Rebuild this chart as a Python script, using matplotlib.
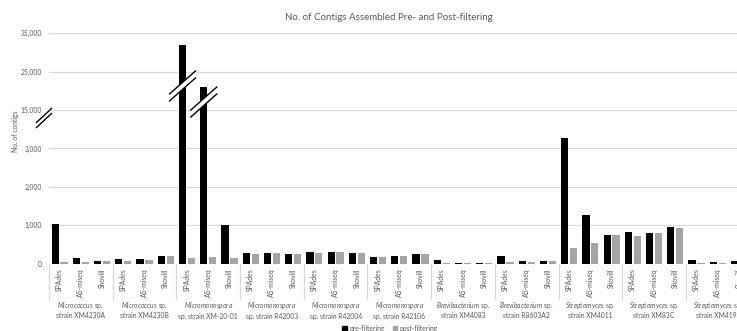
import numpy as np
import matplotlib
matplotlib.use("Agg")
import matplotlib.pyplot as plt
import matplotlib.transforms as mtransforms
from matplotlib.patches import Polygon, Patch
from matplotlib.lines import Line2D

# ---- data -------------------------------------------------------------
assemblers = ["SPAdes", "A5-miseq", "Shovill"]

strain_line1 = [
    r"$\mathit{Micrococcus}\ \mathrm{sp.}$", r"$\mathit{Micrococcus}\ \mathrm{sp.}$",
    r"$\mathit{Micromonospora}$", r"$\mathit{Micromonospora}$",
    r"$\mathit{Micromonospora}$", r"$\mathit{Micromonospora}$",
    r"$\mathit{Brevibacterium}\ \mathrm{sp.}$", r"$\mathit{Brevibacterium}\ \mathrm{sp.}$",
    r"$\mathit{Streptomyces}\ \mathrm{sp.}$", r"$\mathit{Streptomyces}\ \mathrm{sp.}$",
    r"$\mathit{Streptomyces}\ \mathrm{sp.}$",
]
strain_line2 = [
    "strain XM4230A", "strain XM4230B", "sp. strain XM-20-01",
    "sp. strain R42003", "sp. strain R42004", "sp. strain R42106",
    "strain XM4083", "strain R8603A2", "strain XM4011", "strain XM83C",
    "strain XM4193",
]

# contigs per strain: SPAdes, A5-miseq, Shovill
pre_filtering = [
    [1040, 150, 62],
    [130, 115, 193],
    [31900, 21000, 1015],
    [280, 288, 263],
    [307, 307, 289],
    [184, 210, 263],
    [96, 18, 26],
    [210, 61, 61],
    [3270, 1280, 754],
    [824, 807, 947],
    [96, 53, 70],
]
post_filtering = [
    [45, 44, 61],
    [79, 96, 193],
    [158, 167, 140],
    [263, 289, 263],
    [281, 307, 289],
    [167, 210, 263],
    [18, 9, 22],
    [53, 53, 61],
    [421, 544, 737],
    [728, 798, 938],
    [18, 26, 20],
]

y_ticks = [0, 1000, 2000, 3000, 15000, 25000, 35000]
series_names = ["pre-filtering", "post-filtering"]
title = "No. of Contigs Assembled Pre- and Post-filtering"

# ---- style ------------------------------------------------------------
plt.rcParams["font.family"] = ["Lato", "DejaVu Sans"]
plt.rcParams["mathtext.fontset"] = "custom"
plt.rcParams["mathtext.rm"] = "Lato"
plt.rcParams["mathtext.it"] = "Lato:italic"

TEXT = "#595959"
GRID = "#d9d9d9"
PRE_C = "#000000"
POST_C = "#a5a5a5"
FS = 4.9

W, H, DPI = 737, 331, 100
fig = plt.figure(figsize=(W / DPI, H / DPI), dpi=DPI)
ax = fig.add_axes([49 / W, 1 - 263.7 / H, 1 - 49 / W, 230.4 / H])

# broken value axis: linear up to 3,500, compressed above
val_knots = [0, 3500, 15000, 35000]
pos_knots = [0, 3.5, 4, 6]
ax.set_yscale("function",
              functions=(lambda v: np.interp(v, val_knots, pos_knots),
                         lambda u: np.interp(u, pos_knots, val_knots)))

pre = np.array(pre_filtering).ravel()
post = np.array(post_filtering).ravel()
x = np.arange(pre.size)
bw = 0.34
ax.bar(x - 0.21, pre, bw, color=PRE_C, zorder=3)
ax.bar(x + 0.21, post, bw, color=POST_C, zorder=3)

slot_px = 21.23
ax.set_xlim(-0.5, -0.5 + (W - 49) / slot_px)
ax.set_ylim(0, 35000)
ax.set_yticks(y_ticks)
ax.set_yticklabels([f"{t:,}" for t in y_ticks])
ax.set_xticks([])
ax.yaxis.grid(True, color=GRID, lw=0.9, zorder=0)
ax.tick_params(axis="y", length=0, labelsize=FS, labelcolor=TEXT, pad=5)
for s in ax.spines.values():
    s.set_visible(False)

bl = mtransforms.blended_transform_factory(ax.transData, ax.transAxes)

# assembler labels under each slot
for i in range(x.size):
    ax.text(i, -0.019, assemblers[i % 3], transform=bl, rotation=90,
            ha="center", va="top", fontsize=FS, color=TEXT, clip_on=False)

# group separators and strain labels
n_groups = len(strain_line1)
for g in range(n_groups + 1):
    xs = g * 3 - 0.5
    ax.add_line(Line2D([xs, xs], [0, -0.154], transform=bl, color=GRID,
                       lw=0.9, clip_on=False))
for g in range(n_groups):
    ax.text(g * 3 + 1, -(305.5 - 263.7) / 230.4, strain_line1[g], transform=bl,
            ha="center", va="center", fontsize=FS, color=TEXT, clip_on=False)
    ax.text(g * 3 + 1, -(316 - 263.7) / 230.4, strain_line2[g], transform=bl,
            ha="center", va="center", fontsize=FS, color=TEXT, clip_on=False)


def draw_break(cx, cy, base, w, h, gap):
    t = fig.dpi_scale_trans + mtransforms.ScaledTranslation(cx, cy, base)
    hw, hh, hg = w / 2 / DPI, h / 2 / DPI, gap / 2 / DPI
    a = [(-hw, -hh + hg), (hw, hh + hg)]
    b = [(-hw, -hh - hg), (hw, hh - hg)]
    fig.add_artist(Polygon([a[0], a[1], b[1], b[0]], closed=True, fc="white",
                           ec="none", transform=t, zorder=6))
    for seg in (a, b):
        fig.add_artist(Line2D([p[0] for p in seg], [p[1] for p in seg],
                              color="black", lw=1.0, transform=t, zorder=7))


# break symbol on the value axis
draw_break((44 - 49) / (W - 49), (263.7 - 118) / 230.4, ax.transAxes, 15, 14, 5)
# break symbols on the truncated bars
draw_break(6 - 0.21, 21300, ax.transData, 26, 23, 7)
draw_break(7 - 0.21, 17100, ax.transData, 26, 23, 7)

fig.text(389 / W, 1 - 17 / H, title, ha="center", va="center",
         fontsize=7, color=TEXT)
fig.text(16 / W, 1 - 131 / H, "No. of contigs", rotation=90, ha="center",
         va="center", fontsize=FS, color=TEXT)

handles = [Patch(color=PRE_C), Patch(color=POST_C)]
fig.legend(handles, series_names, loc="center",
           bbox_to_anchor=(390 / W, 1 - 328 / H), ncol=2, frameon=False,
           fontsize=FS, labelcolor=TEXT, handlelength=0.7, handleheight=0.7,
           handletextpad=0.3, columnspacing=1.2, borderpad=0)

fig.savefig("out.png", dpi=DPI)
